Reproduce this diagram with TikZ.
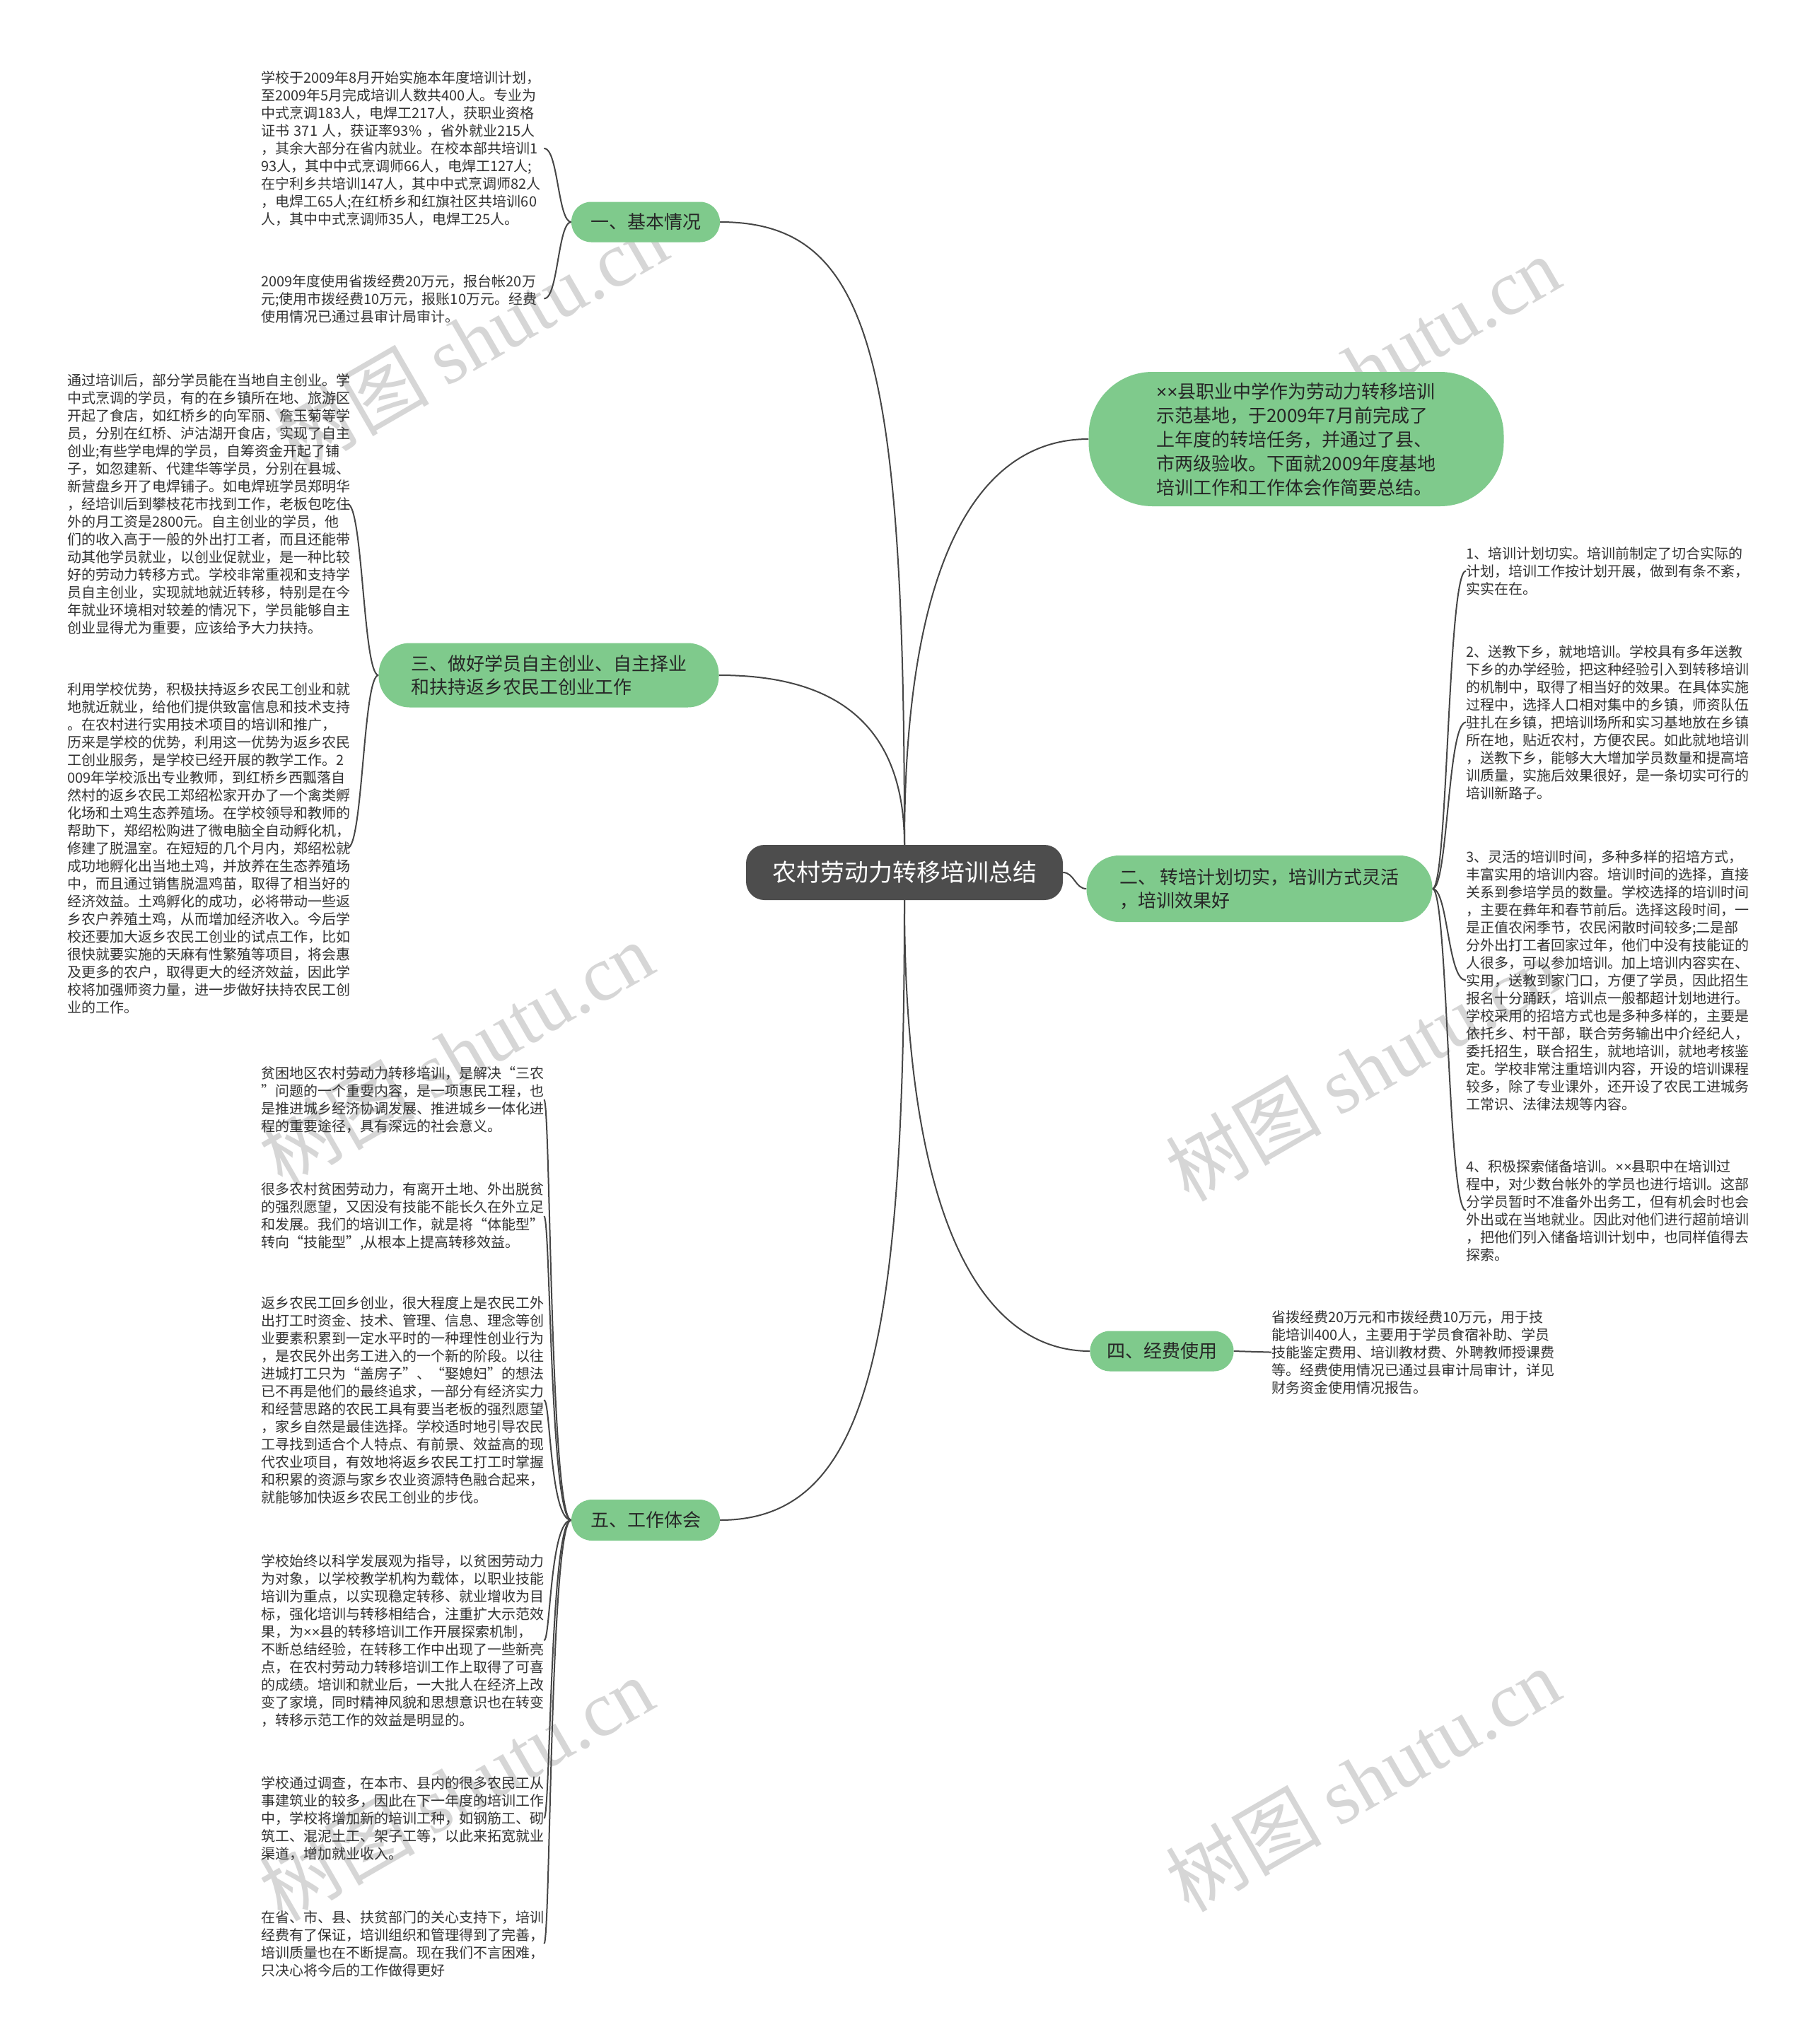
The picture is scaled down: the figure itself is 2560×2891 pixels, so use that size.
\documentclass[tikz,border=0pt]{standalone}
\usepackage{fontspec}
\setmainfont{Noto Sans CJK SC}
\newfontfamily\wmlatin{Liberation Serif}
\newfontfamily\latinsans{Liberation Sans}
\newcommand\xxmark{{\latinsans ××}}
\usetikzlibrary{backgrounds}

\definecolor{rootgray}{RGB}{77,77,77}
\definecolor{leafgreen}{RGB}{127,202,140}
\definecolor{linkgray}{RGB}{70,70,70}
\definecolor{textgray}{RGB}{51,51,51}
\definecolor{markgray}{RGB}{214,214,214}

\tikzset{
  rootnode/.style={fill=rootgray, text=white, rounded corners=26pt, minimum width=448pt,
    minimum height=78pt, inner sep=0pt, font=\fontsize{34}{40}\selectfont},
  branch/.style={fill=leafgreen, text=black!85, inner sep=0pt, align=left,
    font=\fontsize{26}{33}\selectfont},
  leaftext/.style={anchor=north west, inner sep=0pt, text width=400pt, align=left,
    text=textgray, font=\fontsize{20}{25}\selectfont},
  link/.style={draw=linkgray, line width=2pt},
  wmark/.style={text=markgray, rotate=30, font=\fontsize{110}{110}\selectfont}
}

\begin{document}
\begin{tikzpicture}[x=1pt,y=-1pt]

\useasboundingbox (0,0) rectangle (2560,2891);

% centre and main branches
\node[rootnode] (root) at (1279,1234) {农村劳动力转移培训总结};

\node[branch, minimum width=210pt, minimum height=57pt, rounded corners=28pt] (b1) at (913,314) {一、基本情况};
\node[branch, minimum width=481pt, minimum height=91pt, rounded corners=44pt] (b3) at (776,955)
  {三、做好学员自主创业、自主择业\\和扶持返乡农民工创业工作};
\node[branch, minimum width=210pt, minimum height=58pt, rounded corners=29pt] (b5) at (913,2150) {五、工作体会};
\node[branch, minimum width=587pt, minimum height=190pt, rounded corners=90pt, font=\fontsize{26}{34}\selectfont] (bt) at (1833,621)
  {\xxmark 县职业中学作为劳动力转移培训\\示范基地，于2009年7月前完成了\\上年度的转培任务，并通过了县、\\市两级验收。下面就2009年度基地\\培训工作和工作体会作简要总结。};
\node[branch, minimum width=489pt, minimum height=94pt, rounded corners=46pt] (b2) at (1781,1257)
  {二、 转培计划切实，培训方式灵活\\，培训效果好};
\node[branch, minimum width=203pt, minimum height=57pt, rounded corners=28pt] (b4) at (1643,1911) {四、经费使用};

% 一
\node[leaftext] (jbA) at (369,100) {学校于2009年8月开始实施本年度培训计划，\\至2009年5月完成培训人数共400人。专业为\\中式烹调183人，电焊工217人，获职业资格\\证书 371 人，获证率93\% ，省外就业215人\\，其余大部分在省内就业。在校本部共培训1\\93人，其中中式烹调师66人，电焊工127人;\\在宁利乡共培训147人，其中中式烹调师82人\\，电焊工65人;在红桥乡和红旗社区共培训60\\人，其中中式烹调师35人，电焊工25人。};
\node[leaftext] (jbB) at (369,388) {2009年度使用省拨经费20万元，报台帐20万\\元;使用市拨经费10万元，报账10万元。经费\\使用情况已通过县审计局审计。};

% 三
\node[leaftext, text width=396pt] (zyA) at (95,528) {通过培训后，部分学员能在当地自主创业。学\\中式烹调的学员，有的在乡镇所在地、旅游区\\开起了食店，如红桥乡的向军丽、詹玉菊等学\\员，分别在红桥、泸沽湖开食店，实现了自主\\创业;有些学电焊的学员，自筹资金开起了铺\\子，如忽建新、代建华等学员，分别在县城、\\新营盘乡开了电焊铺子。如电焊班学员郑明华\\，经培训后到攀枝花市找到工作，老板包吃住\\外的月工资是2800元。自主创业的学员，他\\们的收入高于一般的外出打工者，而且还能带\\动其他学员就业，以创业促就业，是一种比较\\好的劳动力转移方式。学校非常重视和支持学\\员自主创业，实现就地就近转移，特别是在今\\年就业环境相对较差的情况下，学员能够自主\\创业显得尤为重要，应该给予大力扶持。};
\node[leaftext, text width=396pt] (zyB) at (95,965) {利用学校优势，积极扶持返乡农民工创业和就\\地就近就业，给他们提供致富信息和技术支持\\。在农村进行实用技术项目的培训和推广，\\历来是学校的优势，利用这一优势为返乡农民\\工创业服务，是学校已经开展的教学工作。2\\009年学校派出专业教师，到红桥乡西瓢落自\\然村的返乡农民工郑绍松家开办了一个禽类孵\\化场和土鸡生态养殖场。在学校领导和教师的\\帮助下，郑绍松购进了微电脑全自动孵化机，\\修建了脱温室。在短短的几个月内，郑绍松就\\成功地孵化出当地土鸡，并放养在生态养殖场\\中，而且通过销售脱温鸡苗，取得了相当好的\\经济效益。土鸡孵化的成功，必将带动一些返\\乡农户养殖土鸡，从而增加经济收入。今后学\\校还要加大返乡农民工创业的试点工作，比如\\很快就要实施的天麻有性繁殖等项目，将会惠\\及更多的农户，取得更大的经济效益，因此学\\校将加强师资力量，进一步做好扶持农民工创\\业的工作。};

% 五
\node[leaftext] (thA) at (369,1508) {贫困地区农村劳动力转移培训，是解决“三农\\”问题的一个重要内容，是一项惠民工程，也\\是推进城乡经济协调发展、推进城乡一体化进\\程的重要途径，具有深远的社会意义。};
\node[leaftext] (thB) at (369,1672) {很多农村贫困劳动力，有离开土地、外出脱贫\\的强烈愿望，又因没有技能不能长久在外立足\\和发展。我们的培训工作，就是将“体能型”\\转向“技能型”,从根本上提高转移效益。};
\node[leaftext] (thC) at (369,1833) {返乡农民工回乡创业，很大程度上是农民工外\\出打工时资金、技术、管理、信息、理念等创\\业要素积累到一定水平时的一种理性创业行为\\，是农民外出务工进入的一个新的阶段。以往\\进城打工只为“盖房子”、“娶媳妇”的想法\\已不再是他们的最终追求，一部分有经济实力\\和经营思路的农民工具有要当老板的强烈愿望\\，家乡自然是最佳选择。学校适时地引导农民\\工寻找到适合个人特点、有前景、效益高的现\\代农业项目，有效地将返乡农民工打工时掌握\\和积累的资源与家乡农业资源特色融合起来，\\就能够加快返乡农民工创业的步伐。};
\node[leaftext] (thD) at (369,2198) {学校始终以科学发展观为指导，以贫困劳动力\\为对象，以学校教学机构为载体，以职业技能\\培训为重点，以实现稳定转移、就业增收为目\\标，强化培训与转移相结合，注重扩大示范效\\果，为\xxmark 县的转移培训工作开展探索机制，\\不断总结经验，在转移工作中出现了一些新亮\\点，在农村劳动力转移培训工作上取得了可喜\\的成绩。培训和就业后，一大批人在经济上改\\变了家境，同时精神风貌和思想意识也在转变\\，转移示范工作的效益是明显的。};
\node[leaftext] (thE) at (369,2512) {学校通过调查，在本市、县内的很多农民工从\\事建筑业的较多，因此在下一年度的培训工作\\中，学校将增加新的培训工种，如钢筋工、砌\\筑工、混泥土工、架子工等，以此来拓宽就业\\渠道，增加就业收入。};
\node[leaftext] (thF) at (369,2702) {在省、市、县、扶贫部门的关心支持下，培训\\经费有了保证，培训组织和管理得到了完善，\\培训质量也在不断提高。现在我们不言困难，\\只决心将今后的工作做得更好};

% 二
\node[leaftext] (zpA) at (2073,773) {1、培训计划切实。培训前制定了切合实际的\\计划，培训工作按计划开展，做到有条不紊，\\实实在在。};
\node[leaftext] (zpB) at (2073,912) {2、送教下乡，就地培训。学校具有多年送教\\下乡的办学经验，把这种经验引入到转移培训\\的机制中，取得了相当好的效果。在具体实施\\过程中，选择人口相对集中的乡镇，师资队伍\\驻扎在乡镇，把培训场所和实习基地放在乡镇\\所在地，贴近农村，方便农民。如此就地培训\\，送教下乡，能够大大增加学员数量和提高培\\训质量，实施后效果很好，是一条切实可行的\\培训新路子。};
\node[leaftext] (zpC) at (2073,1202) {3、灵活的培训时间，多种多样的招培方式，\\丰富实用的培训内容。培训时间的选择，直接\\关系到参培学员的数量。学校选择的培训时间\\，主要在彝年和春节前后。选择这段时间，一\\是正值农闲季节，农民闲散时间较多;二是部\\分外出打工者回家过年，他们中没有技能证的\\人很多，可以参加培训。加上培训内容实在、\\实用，送教到家门口，方便了学员，因此招生\\报名十分踊跃，培训点一般都超计划地进行。\\学校采用的招培方式也是多种多样的，主要是\\依托乡、村干部，联合劳务输出中介经纪人，\\委托招生，联合招生，就地培训，就地考核鉴\\定。学校非常注重培训内容，开设的培训课程\\较多，除了专业课外，还开设了农民工进城务\\工常识、法律法规等内容。};
\node[leaftext] (zpD) at (2073,1640) {4、积极探索储备培训。\xxmark 县职中在培训过\\程中，对少数台帐外的学员也进行培训。这部\\分学员暂时不准备外出务工，但有机会时也会\\外出或在当地就业。因此对他们进行超前培训\\，把他们列入储备培训计划中，也同样值得去\\探索。};

% 四
\node[leaftext] (jfA) at (1798,1853) {省拨经费20万元和市拨经费10万元，用于技\\能培训400人，主要用于学员食宿补助、学员\\技能鉴定费用、培训教材费、外聘教师授课费\\等。经费使用情况已通过县审计局审计，详见\\财务资金使用情况报告。};

\begin{scope}[on background layer]
\fill[white] (0,0) rectangle (2560,2891);
\node[wmark] (wm1) at (665,480) {树图 {\wmlatin shutu.cn}};
\node[wmark] (wm2) at (1927,520) {树图 {\wmlatin shutu.cn}};
\node[wmark] (wm3) at (645,1490) {树图 {\wmlatin shutu.cn}};
\node[wmark] (wm4) at (1927,1512) {树图 {\wmlatin shutu.cn}};
\node[wmark] (wm5) at (645,2530) {树图 {\wmlatin shutu.cn}};
\node[wmark] (wm6) at (1927,2517) {树图 {\wmlatin shutu.cn}};

% centre to branches
\draw[link] (root.north) .. controls +(0,-695) and +(212,0) .. (b1.east);
\draw[link] (root.north) .. controls +(0,-195) and +(134,0) .. (b3.east);
\draw[link] (root.south) .. controls +(0,627) and +(212,0) .. (b5.east);
\draw[link] (root.north) .. controls +(0,-395) and +(-160,0) .. (bt.west);
\draw[link] (root.east) .. controls +(16,0) and +(-16,0) .. (b2.west);
\draw[link] (root.south) .. controls +(0,477) and +(-142,0) .. (b4.west);

% branches to texts
\foreach \t in {jbA,jbB}
  \draw[link] (b1.west) .. controls +(-19,0) and +(20,0) .. (\t.east);
\foreach \t in {zyA,zyB}
  \draw[link] (b3.west) .. controls +(-22,0) and +(22,0) .. (\t.east);
\foreach \t in {thA,thB,thC,thD,thE,thF}
  \draw[link] (b5.west) .. controls +(-30,0) and +(9,0) .. (\t.east);
\foreach \t in {zpA,zpB,zpC,zpD}
  \draw[link] (b2.east) .. controls +(22,0) and +(-26,0) .. (\t.west);
\draw[link] (b4.east) -- (jfA.west);
\end{scope}

\end{tikzpicture}
\end{document}
